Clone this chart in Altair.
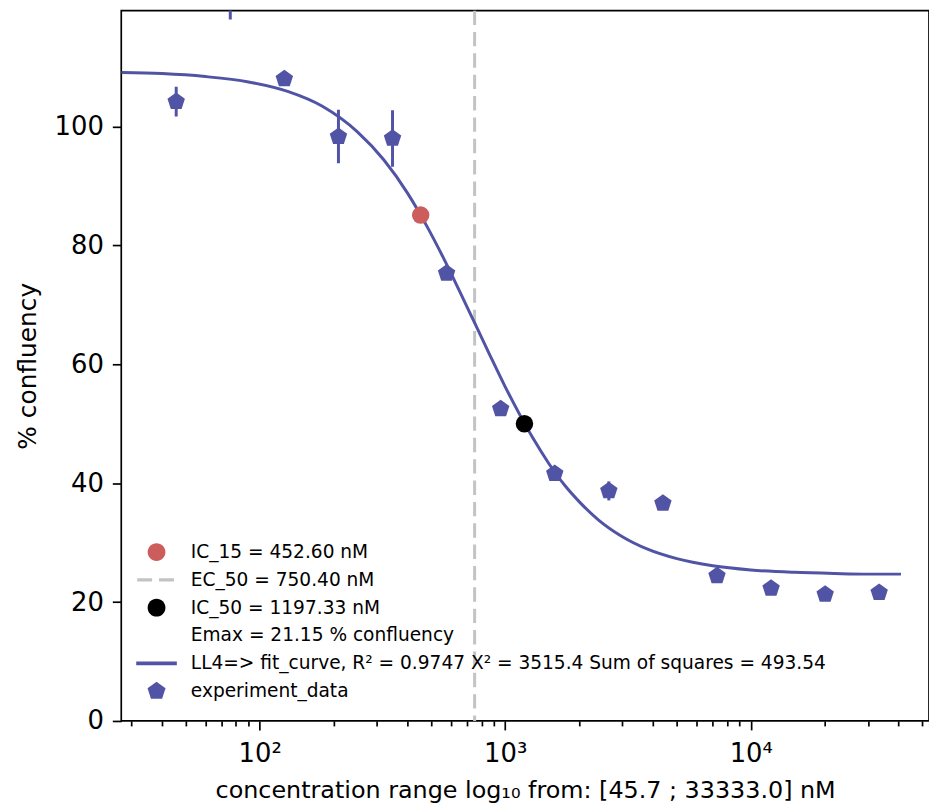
import altair as alt
import pandas as pd

# ---------------- data ----------------
conc = [45.7, 75.89, 126.0, 209.3, 347.5, 577.0, 958.2, 1591.1, 2642.1,
        4387.4, 7285.5, 12098.0, 20089.0, 33333.0]
resp = [104.2, 121.2, 108.0, 98.3, 98.0, 75.3, 52.5, 41.6, 38.7,
        36.6, 24.4, 22.3, 21.3, 21.6]
err = [2.5, 3.2, 0.5, 4.5, 4.75, 0.5, 0.6, 0.5, 1.6, 0.4, 1.1, 0.4, 0.4, 0.4]

fit_x = [27.3, 40, 60, 90, 130, 180, 250, 320, 400, 480, 560, 650, 750, 860,
         1000, 1150, 1300, 1500, 1750, 2000, 2400, 3000, 3800, 5000, 7000,
         10000, 15000, 22000, 30000, 40900]
fit_y = [109.1, 108.9, 108.4, 107.5, 105.9, 103.4, 99.1, 94.4, 88.8, 83.2,
         77.9, 72.4, 67.0, 61.8, 56.2, 51.4, 47.5, 43.4, 39.6, 36.9, 33.8,
         31.0, 28.9, 27.3, 26.1, 25.4, 25.0, 24.8, 24.7, 24.7]

ic15_x, ic15_y = [452.60], [85.1]
ic50_x, ic50_y = [1197.33], [50.0]
ec50_x = [750.40]

legend_labels = [
    "IC_15 = 452.60 nM",
    "EC_50 = 750.40 nM",
    "IC_50 = 1197.33 nM",
    "Emax = 21.15 % confluency",
    "LL4=> fit_curve, R² = 0.9747 X² = 3515.4 Sum of squares = 493.54",
    "experiment_data",
]

x_ticks = [30, 40, 50, 60, 70, 80, 90, 100, 200, 300, 400, 500, 600, 700, 800,
           900, 1000, 2000, 3000, 4000, 5000, 6000, 7000, 8000, 9000, 10000,
           20000, 30000, 40000, 50000]
y_ticks = [0, 20, 40, 60, 80, 100]

# ---------------- styling ----------------
BLUE = "#5154a4"
RED = "#cd5c5c"
GREY = "#c3c3c3"
FONT = "DejaVu Sans"
PENTAGON = "M0,-1L0.951,-0.309L0.588,0.809L-0.588,0.809L-0.951,-0.309Z"

legend_colors = [RED, GREY, "black", "white", BLUE, BLUE]
legend_shapes = [
    "M0.64,0A0.64,0.64 0 1,1 -0.64,0A0.64,0.64 0 1,1 0.64,0Z",
    "M-1.39,-0.11H-0.32V0.11H-1.39Z M0.18,-0.11H1.25V0.11H0.18Z",
    "M0.64,0A0.64,0.64 0 1,1 -0.64,0A0.64,0.64 0 1,1 0.64,0Z",
    "M0,0H0.01V0.01H0Z",
    "M-1.46,-0.13H1.46V0.13H-1.46Z",
    "M0,-0.68L0.647,-0.21L0.4,0.55L-0.4,0.55L-0.647,-0.21Z",
]

xscale = alt.Scale(type="log", domain=[27.3, 53200], nice=False)
yscale = alt.Scale(domain=[0, 119.5], nice=False)

major = "datum.value == 100 || datum.value == 1000 || datum.value == 10000"
x_axis = alt.Axis(
    values=x_ticks,
    labelExpr="datum.value == 100 ? '10²' : datum.value == 1000 ? '10³' : datum.value == 10000 ? '10⁴' : ''",
    tickSize={"condition": {"test": major, "value": 9}, "value": 5},
    tickWidth=1.7, tickColor="black", domain=False, grid=False,
    labelFont=FONT, labelFontSize=26, labelColor="black", labelPadding=11,
    labelOverlap=False, labelFlush=False,
    title="concentration range log₁₀ from: [45.7 ; 33333.0] nM",
    titleFont=FONT, titleFontSize=24, titleFontWeight="normal",
    titleColor="black", titlePadding=12,
)
y_axis = alt.Axis(
    values=y_ticks, tickSize=9, tickWidth=1.7, tickColor="black",
    domain=False, grid=False,
    labelFont=FONT, labelFontSize=26, labelColor="black", labelPadding=9,
    title="% confluency", titleFont=FONT, titleFontSize=25,
    titleFontWeight="normal", titleColor="black", titlePadding=14,
)

X = lambda f: alt.X(f, type="quantitative", scale=xscale, axis=x_axis)
Y = lambda f: alt.Y(f, type="quantitative", scale=yscale, axis=y_axis)

exp_df = pd.DataFrame({"x": conc, "y": resp, "err": err})
fit_df = pd.DataFrame({"x": fit_x, "y": fit_y})

ec50_rule = alt.Chart(pd.DataFrame({"x": ec50_x})).mark_rule(
    color=GREY, strokeWidth=3, strokeDash=[14.5, 7], clip=True
).encode(x=X("x"))

curve = alt.Chart(fit_df).mark_line(
    color=BLUE, strokeWidth=3, interpolate="monotone", clip=True
).encode(x=X("x"), y=Y("y"))

errbars = alt.Chart(exp_df).transform_calculate(
    lo="datum.y - datum.err", hi="datum.y + datum.err"
).mark_rule(color=BLUE, strokeWidth=3, clip=True).encode(
    x=X("x"), y=Y("lo"), y2="hi:Q"
)

points = alt.Chart(exp_df).mark_point(
    filled=True, opacity=1, color=BLUE, shape=PENTAGON, size=340, clip=True
).encode(x=X("x"), y=Y("y"))

ic15 = alt.Chart(pd.DataFrame({"x": ic15_x, "y": ic15_y})).mark_circle(
    color=RED, opacity=1, size=310, clip=True
).encode(x=X("x"), y=Y("y"))

ic50 = alt.Chart(pd.DataFrame({"x": ic50_x, "y": ic50_y})).mark_circle(
    color="black", opacity=1, size=310, clip=True
).encode(x=X("x"), y=Y("y"))

leg = alt.Legend(
    title=None, orient="none", legendX=21.5, legendY=531,
    symbolSize=784, symbolStrokeWidth=0, symbolOpacity=1,
    labelOffset=20.5, rowPadding=4, padding=0,
    labelFont=FONT, labelFontSize=18.7, labelColor="black", labelLimit=2000,
)
legend_layer = alt.Chart(pd.DataFrame({"label": legend_labels})).transform_filter(
    "false"
).mark_point(filled=True, opacity=1).encode(
    fill=alt.Fill("label:N", scale=alt.Scale(domain=legend_labels, range=legend_colors), legend=leg),
    shape=alt.Shape("label:N", scale=alt.Scale(domain=legend_labels, range=legend_shapes), legend=leg),
)

chart = alt.layer(
    ec50_rule, curve, errbars, points, ic15, ic50, legend_layer
).properties(
    width=813, height=715,
    padding={"left": 114, "top": 0, "right": 0, "bottom": 84},
    autosize=alt.AutoSizeParams(type="none"),
    background="white",
).configure_view(stroke="black", strokeWidth=1.7)

chart.save("out.html", embed_options={"renderer": "svg", "actions": False})
